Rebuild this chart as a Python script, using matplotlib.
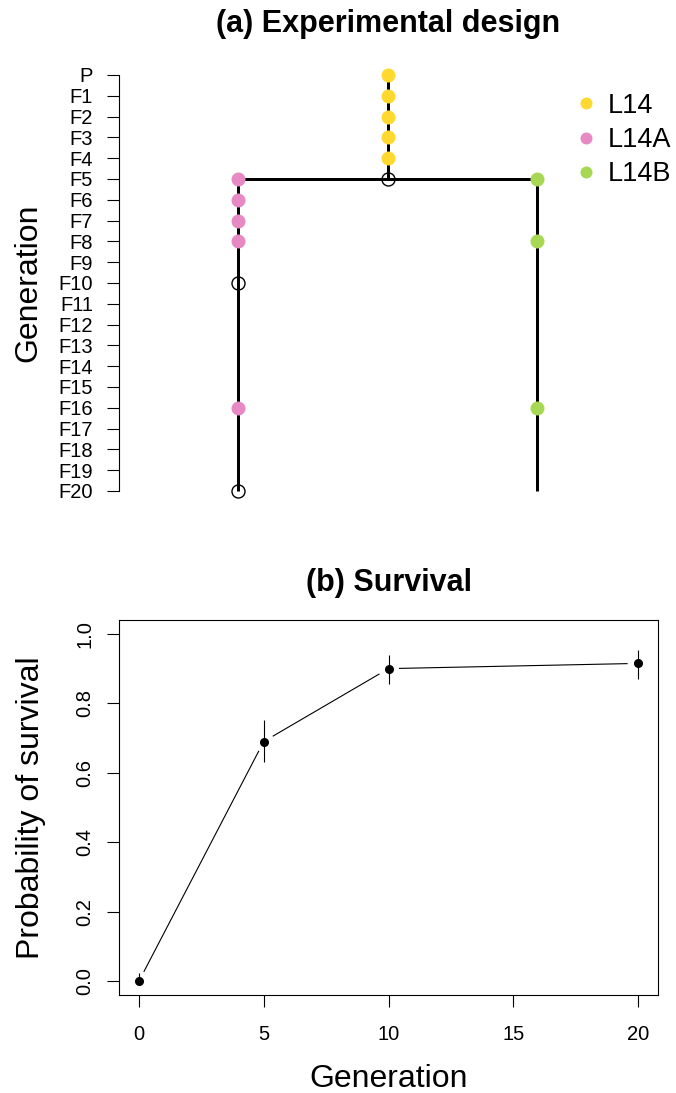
import matplotlib
matplotlib.use("Agg")
import matplotlib.pyplot as plt
from matplotlib.lines import Line2D
import numpy as np

plt.rcParams['font.family'] = ['Liberation Sans', 'DejaVu Sans']

# ---- data: experimental design ----
gen_labels = ["P"] + [f"F{i}" for i in range(1, 21)]
lineages = ["L14", "L14A", "L14B"]
lineage_colors = ["#FFD92F", "#E78AC3", "#A6D854"]
lineage_pos = [2, 1, 3]            # column of each lineage
lineage_start = [0, 5, 5]          # first generation of each lineage line
lineage_end = [5, 20, 20]          # last generation of each lineage line
sampled_L14 = [0, 1, 2, 3, 4]
sampled_L14A = [5, 6, 7, 8, 16]
sampled_L14B = [5, 8, 16]
open_L14 = [5]
open_L14A = [10, 20]
split_gen = 5

# ---- data: survival ----
surv_gen = [0, 5, 10, 20]
surv_prob = [0.0, 0.69, 0.90, 0.915]
surv_lower = [0.0, 0.63, 0.855, 0.87]
surv_upper = [0.022, 0.752, 0.94, 0.953]

W, H = 676, 1093
fig = plt.figure(figsize=(W / 100, H / 100), dpi=100)

def frac_box(x0, x1, ytop, ybot):
    return [x0 / W, 1 - ybot / H, (x1 - x0) / W, (ybot - ytop) / H]

# ================= panel (a) =================
ax1 = fig.add_axes(frac_box(119, 658, 60, 505))
px_per_unit = 149.5
ax1.set_xlim(1 - (238 - 119) / px_per_unit, 3 + (658 - 537) / px_per_unit)
ax1.set_ylim(20 + (505 - 491) / 20.8, -(75 - 60) / 20.8)

lw_thick = 3 * 0.72
for pos, s, e in zip(lineage_pos, lineage_start, lineage_end):
    ax1.plot([pos, pos], [s, e], color="black", lw=lw_thick, solid_capstyle="butt", zorder=1)
ax1.plot([min(lineage_pos), max(lineage_pos)], [split_gen, split_gen], color="black",
         lw=lw_thick, solid_capstyle="butt", zorder=1)

ms_dot = 14 * 0.72
sampled = [sampled_L14, sampled_L14A, sampled_L14B]
for pos, gens, col in zip(lineage_pos, sampled, lineage_colors):
    ax1.plot([pos] * len(gens), gens, "o", ms=ms_dot, color=col, mec=col, mew=0, zorder=3)

ms_open = 13 * 0.72
ax1.plot([lineage_pos[0]] * len(open_L14), open_L14, "o", ms=ms_open, mfc="none",
         mec="black", mew=1.0, zorder=4)
ax1.plot([lineage_pos[1]] * len(open_L14A), open_L14A, "o", ms=ms_open, mfc="none",
         mec="black", mew=1.0, zorder=4)

for sp in ["top", "right", "bottom"]:
    ax1.spines[sp].set_visible(False)
ax1.spines["left"].set_bounds(0, 20)
ax1.spines["left"].set_linewidth(0.8)
ax1.set_xticks([])
ax1.set_yticks(range(21))
ax1.set_yticklabels(gen_labels)
ax1.tick_params(axis="y", length=12 * 0.72, width=0.8, pad=10, labelsize=14.5)

ax1.set_ylabel("Generation", fontsize=23, va="center")
ax1.yaxis.set_label_coords((28 - 119) / 539, 0.5)
ax1.set_title("(a) Experimental design", fontsize=22, fontweight="bold",
              y=(505 - 24) / 445, va="center", pad=0)

handles = [Line2D([], [], marker="o", ls="none", ms=12 * 0.72, color=c, mew=0)
           for c in lineage_colors]
ax1.legend(handles, lineages, loc="center left", frameon=False, fontsize=19.5,
           bbox_to_anchor=(579 / W, 1 - 140 / H), bbox_transform=fig.transFigure,
           handlelength=0.5, handletextpad=0.55, labelspacing=0.3, borderpad=0,
           borderaxespad=0)

# ================= panel (b) =================
ax2 = fig.add_axes(frac_box(119, 658, 620, 995))
ax2.set_xlim(-0.8, 20.8)
ax2.set_ylim(-0.04, 1.04)

g = np.array(surv_gen, float)
p = np.array(surv_prob, float)
lo = np.array(surv_lower, float)
hi = np.array(surv_upper, float)

# type="b" style: line segments with gaps around points
gap = 11.0
pts = ax2.transData.transform(np.column_stack([g, p]))
inv = ax2.transData.inverted()
for i in range(len(pts) - 1):
    a, b = pts[i], pts[i + 1]
    d = b - a
    L = np.hypot(*d)
    if L > 2 * gap:
        u = d / L
        seg = inv.transform(np.vstack([a + u * gap, b - u * gap]))
        ax2.plot(seg[:, 0], seg[:, 1], color="black", lw=0.8)

ax2.errorbar(g, p, yerr=[p - lo, hi - p], fmt="none", ecolor="black", elinewidth=0.8, capsize=0)
ax2.plot(g, p, "o", color="black", ms=5.5)

for sp in ax2.spines.values():
    sp.set_linewidth(0.8)
ax2.set_xticks([0, 5, 10, 15, 20])
ax2.set_yticks([0.0, 0.2, 0.4, 0.6, 0.8, 1.0])
ax2.set_yticklabels(["0.0", "0.2", "0.4", "0.6", "0.8", "1.0"], rotation=90, va="center")
ax2.tick_params(axis="both", length=12 * 0.72, width=0.8, labelsize=14.5)
ax2.tick_params(axis="y", pad=9)
ax2.tick_params(axis="x", pad=13)

ax2.set_ylabel("Probability of survival", fontsize=23, va="center")
ax2.yaxis.set_label_coords((31 - 119) / 539, 0.5)
ax2.set_xlabel("Generation", fontsize=23, va="center")
ax2.xaxis.set_label_coords(0.5, (995 - 1079) / 375)
ax2.set_title("(b) Survival", fontsize=22, fontweight="bold",
              y=(995 - 583) / 375, va="center", pad=0)

fig.savefig("out.png", dpi=100)
